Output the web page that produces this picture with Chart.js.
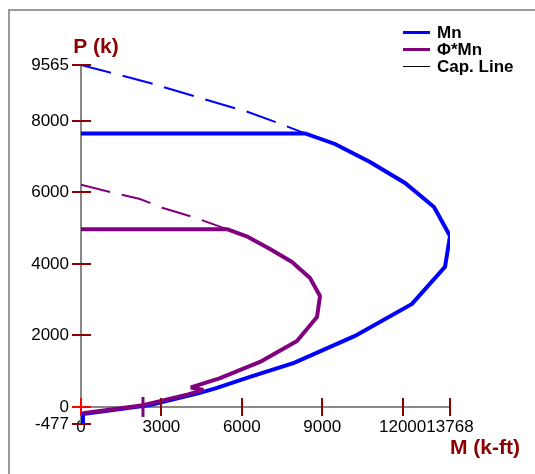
<!DOCTYPE html>
<html>
<head>
<meta charset="utf-8">
<title>P-M Interaction</title>
<script src="https://cdn.jsdelivr.net/npm/chart.js@4.4.1/dist/chart.umd.min.js"></script>
<style>
  html, body { margin: 0; padding: 0; background: #fff; }
  #wrap { position: relative; width: 535px; height: 474px; overflow: hidden; }
  #frame { position: absolute; left: 8px; top: 9px; width: 600px; height: 600px;
           border-left: 2px solid #999; border-top: 2px solid #999; }
  #chart { position: absolute; left: 0; top: 0; }
  #legend { position: absolute; left: 403px; top: 24px; background: #fff;
            font: bold 17px Arial, 'Liberation Sans', sans-serif; color: #000; }
  #legend .row { display: flex; align-items: center; height: 17px; white-space: nowrap; }
  #legend .swatch { display: inline-block; width: 27px; margin-right: 7px; }
</style>
</head>
<body>
<div id="wrap">
  <div id="frame"></div>
  <canvas id="chart" width="535" height="474"></canvas>
  <div id="legend"></div>
</div>
<script>
// axis ticks
const xTicks = [0, 3000, 6000, 9000, 12000, 13768];
const yTicks = [-477, 0, 2000, 4000, 6000, 8000, 9565];

// nominal capacity Mn (solid part, below the cap)
const mnM = [0, 8358, 9477, 10783, 12089, 13171, 13768, 13582, 12350, 10223, 7948, 6306, 5074, 4440, 2575, 75, 75];
const mnP = [7652, 7652, 7356, 6852, 6265, 5594, 4783, 3916, 2881, 1986, 1231, 839, 531, 392, 56, -196, -477];

// Mn above the cap (dashed)
const mnTopM = [0, 2575, 4701, 6231, 7350, 8358];
const mnTopP = [9565, 9062, 8586, 8251, 7943, 7652];

// design capacity Φ*Mn
const phiM = [0, 5447, 6231, 7052, 7873, 8544, 8918, 8806, 8059, 6679, 5166, 4099, 4567, 3996, 2318, 68];
const phiP = [4974, 4974, 4755, 4419, 4055, 3608, 3104, 2517, 1846, 1259, 800, 545, 478, 353, 50, -176];

// Φ*Mn above the cap (dashed)
const phiTopM = [0, 1082, 2201, 3060, 4179, 5447];
const phiTopP = [6217, 6013, 5817, 5566, 5314, 4974];

// Φ*Mn pure bending mark
const phiBendM = [2313];
const phiBendP = [0];

const BLUE = '#0000ff';
const PURPLE = '#800080';
const DARKRED = '#8b0000';
const FONT = "Arial, 'Liberation Sans', sans-serif";

function pts(ms, ps) {
  return ms.map((m, i) => ({ x: m, y: ps[i] }));
}

// red tick marks crossing both axes
const tickMarks = {
  id: 'tickMarks',
  afterDatasetsDraw(chart) {
    const { ctx, scales: { x, y } } = chart;
    const x0 = x.getPixelForValue(0);
    const y0 = y.getPixelForValue(0);
    ctx.save();
    ctx.lineWidth = 2;
    xTicks.forEach((v) => {
      const px = Math.round(x.getPixelForValue(v));
      ctx.strokeStyle = v === 0 ? '#ff0000' : DARKRED;
      ctx.beginPath();
      ctx.moveTo(px, y0 - 9);
      ctx.lineTo(px, y0 + 9);
      ctx.stroke();
    });
    yTicks.forEach((v) => {
      const py = Math.round(y.getPixelForValue(v));
      ctx.strokeStyle = v === 0 ? '#ff0000' : DARKRED;
      ctx.beginPath();
      ctx.moveTo(x0 - 9, py);
      ctx.lineTo(x0 + 10, py);
      ctx.stroke();
    });
    ctx.restore();
  }
};

const axisTitles = {
  id: 'axisTitles',
  afterDraw(chart) {
    const { ctx, scales: { x, y } } = chart;
    ctx.save();
    ctx.fillStyle = DARKRED;
    ctx.font = 'bold 21px ' + FONT;
    ctx.textBaseline = 'middle';
    ctx.textAlign = 'center';
    ctx.fillText('P (k)', x.getPixelForValue(0) + 15, y.top - 18);
    ctx.textAlign = 'left';
    ctx.fillText('M (k-ft)', x.right, y.bottom + 24);
    ctx.restore();
  }
};

const tickFont = { family: FONT, size: 17 };

const chart = new Chart(document.getElementById('chart'), {
  type: 'scatter',
  data: {
    datasets: [
      { label: 'Mn', data: pts(mnM, mnP), showLine: true, borderColor: BLUE, backgroundColor: BLUE,
        borderWidth: 4, pointRadius: 0, order: 4 },
      { data: pts(mnTopM, mnTopP), showLine: true, borderColor: BLUE, borderWidth: 2,
        borderDash: [31, 12], pointRadius: 0, order: 5 },
      { label: 'Φ*Mn', data: pts(phiM, phiP), showLine: true, borderColor: PURPLE, backgroundColor: PURPLE,
        borderWidth: 4, borderJoinStyle: 'bevel', pointRadius: 0, order: 2 },
      { data: pts(phiTopM, phiTopP), showLine: true, borderColor: PURPLE, borderWidth: 2,
        borderDash: [30, 12], pointRadius: 0, order: 3 },
      { data: pts(phiBendM, phiBendP), showLine: false, borderColor: PURPLE, borderWidth: 3,
        pointStyle: 'line', rotation: 90, pointRadius: 10, order: 1 },
      { label: 'Cap. Line', data: [], showLine: true, borderColor: '#000', borderWidth: 1, pointRadius: 0 }
    ]
  },
  options: {
    responsive: false,
    animation: false,
    devicePixelRatio: 1,
    layout: { padding: { left: 25, right: 85, top: 65, bottom: 50 } },
    plugins: { legend: { display: false }, tooltip: { enabled: false } },
    elements: { line: { tension: 0 } },
    scales: {
      x: {
        type: 'linear',
        position: { y: 0 },
        min: 0,
        max: 13768,
        afterBuildTicks: (scale) => { scale.ticks = xTicks.map((v) => ({ value: v })); },
        ticks: { autoSkip: false, maxRotation: 0, padding: 2, color: '#000', font: tickFont,
                 callback: (v) => String(v) },
        grid: { display: false },
        border: { color: '#888', width: 2 }
      },
      y: {
        type: 'linear',
        position: 'left',
        min: -477,
        max: 9565,
        afterBuildTicks: (scale) => { scale.ticks = yTicks.map((v) => ({ value: v })); },
        afterFit: (scale) => { scale.width = 56; },
        ticks: { autoSkip: false, padding: 12, color: '#000', font: tickFont,
                 callback: (v) => String(v) },
        grid: { display: false, drawTicks: false },
        border: { color: '#888', width: 2 }
      }
    }
  },
  plugins: [tickMarks, axisTitles]
});

// legend built from the labelled datasets
const legend = document.getElementById('legend');
chart.data.datasets.filter((ds) => ds.label).forEach((ds) => {
  const row = document.createElement('div');
  row.className = 'row';
  const sw = document.createElement('span');
  sw.className = 'swatch';
  sw.style.borderTop = Math.min(ds.borderWidth, 3) + 'px solid ' + ds.borderColor;
  const txt = document.createElement('span');
  txt.textContent = ds.label;
  row.appendChild(sw);
  row.appendChild(txt);
  legend.appendChild(row);
});
</script>
</body>
</html>
